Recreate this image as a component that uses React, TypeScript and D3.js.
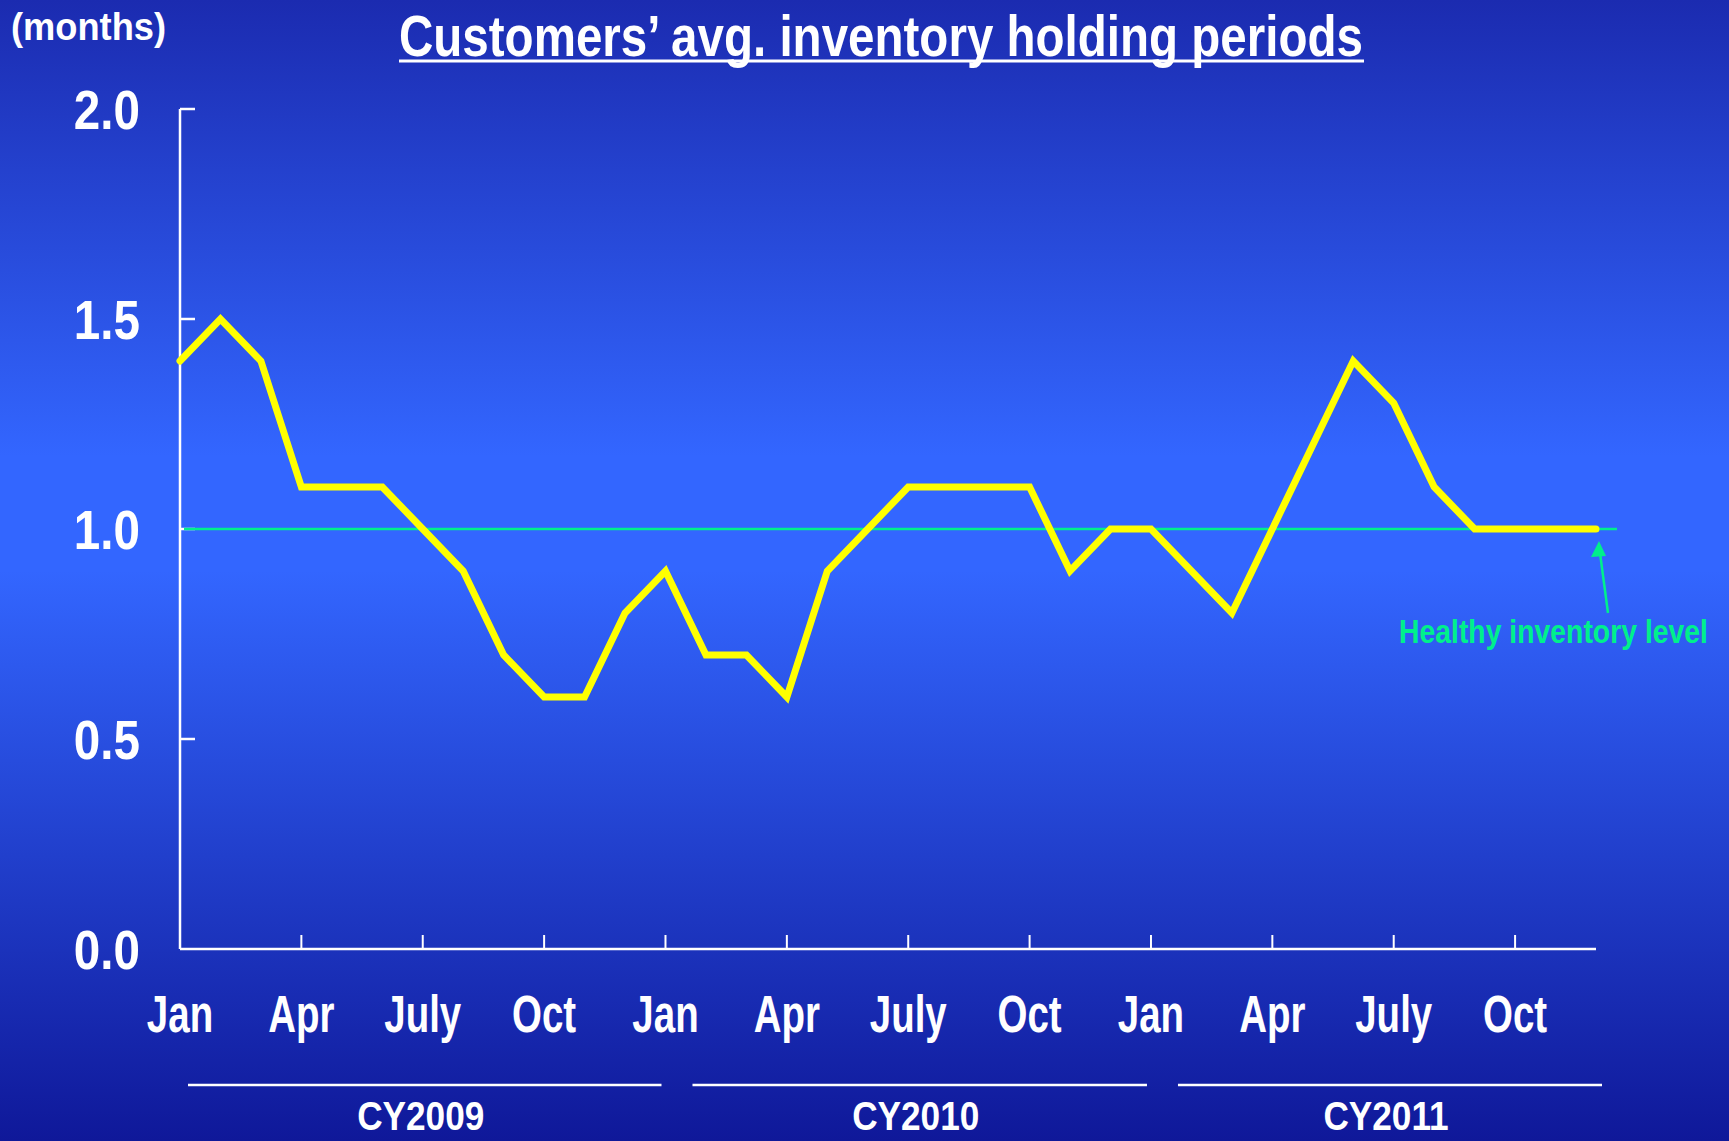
import React from "react";
import { scaleLinear, line } from "d3";

// chart data
const values2009 = [1.4, 1.5, 1.4, 1.1, 1.1, 1.1, 1.0, 0.9, 0.7, 0.6, 0.6, 0.8];
const values2010 = [0.9, 0.7, 0.7, 0.6, 0.9, 1.0, 1.1, 1.1, 1.1, 1.1, 0.9, 1.0];
const values2011 = [1.0, 0.9, 0.8, 1.0, 1.2, 1.4, 1.3, 1.1, 1.0, 1.0, 1.0, 1.0];
const tickLabels = ["Jan", "Apr", "July", "Oct", "Jan", "Apr", "July", "Oct", "Jan", "Apr", "July", "Oct"];
const years = ["CY2009", "CY2010", "CY2011"];
const yTicks = [0, 0.5, 1.0, 1.5, 2.0];
const healthyLevel = 1.0;

const title = "Customers\u2019 avg. inventory holding periods";
const unitLabel = "(months)";
const healthyLabel = "Healthy inventory level";

const width = 1729;
const height = 1141;
const margin = { top: 109, left: 180, bottom: 192 };
const plotRight = 1596;

const font = "'Liberation Sans', Arial, sans-serif";

export default function App() {
  const values = [...values2009, ...values2010, ...values2011];

  const x = scaleLinear()
    .domain([0, values.length - 1])
    .range([margin.left, plotRight]);
  const y = scaleLinear()
    .domain([0, 2])
    .range([height - margin.bottom, margin.top]);

  const path = line<number>()
    .x((d, i) => x(i))
    .y((d) => y(d))(values);

  const baseY = y(0);
  const green = "#00f08c";

  // year bands: start / end month index
  const yearRanges = years.map((yr, i) => {
    const start = i * 12;
    const end = Math.min((i + 1) * 12, values.length - 1);
    const last = i === years.length - 1;
    return {
      yr,
      x0: x(start) + (i === 0 ? 8 : 27),
      x1: x(end) + (last ? 6 : -4),
    };
  });

  const lastX = x(values.length - 1);
  const arrowTipY = y(healthyLevel) + 12;

  return (
    <svg
      width={width}
      height={height}
      style={{ position: "absolute", left: 0, top: 0, display: "block" }}
      fontFamily={font}
    >
      <defs>
        <linearGradient id="bg" x1="0" y1="0" x2="0" y2="1">
          <stop offset="0" stopColor="#1b2bb0" />
          <stop offset="0.4" stopColor="#3366ff" />
          <stop offset="0.5" stopColor="#3366ff" />
          <stop offset="1" stopColor="#0f1899" />
        </linearGradient>
      </defs>
      <rect x={0} y={0} width={width} height={height} fill="url(#bg)" />

      {/* title */}
      <text
        x={399}
        y={56}
        fill="#fff"
        fontSize={58}
        fontWeight="bold"
        textLength={964}
        lengthAdjust="spacingAndGlyphs"
      >
        {title}
      </text>
      <line x1={399} x2={1364} y1={61} y2={61} stroke="#fff" strokeWidth={3} />

      <text
        x={11}
        y={40}
        fill="#fff"
        fontSize={38}
        fontWeight="bold"
        textLength={155}
        lengthAdjust="spacingAndGlyphs"
      >
        {unitLabel}
      </text>

      {/* y axis */}
      <line x1={margin.left} x2={margin.left} y1={y(2)} y2={baseY} stroke="#fff" strokeWidth={2.5} />
      {yTicks.map((t) => (
        <g key={t}>
          {t > 0 && (
            <line x1={margin.left} x2={margin.left + 15} y1={y(t)} y2={y(t)} stroke="#fff" strokeWidth={2.5} />
          )}
          <text
            transform={`translate(140,${y(t) + 20}) scale(0.85,1)`}
            textAnchor="end"
            fill="#fff"
            fontSize={56}
            fontWeight="bold"
          >
            {t.toFixed(1)}
          </text>
        </g>
      ))}

      {/* x axis */}
      <line x1={margin.left} x2={plotRight} y1={baseY} y2={baseY} stroke="#fff" strokeWidth={2.5} />
      {tickLabels.map((lab, i) => {
        const xi = x(i * 3);
        return (
          <g key={i}>
            {i > 0 && <line x1={xi} x2={xi} y1={baseY} y2={baseY - 14} stroke="#fff" strokeWidth={2} />}
            <text
              transform={`translate(${xi},1032) scale(0.74,1)`}
              textAnchor="middle"
              fill="#fff"
              fontSize={52}
              fontWeight="bold"
            >
              {lab}
            </text>
          </g>
        );
      })}

      {/* year groups */}
      {yearRanges.map((r) => (
        <g key={r.yr}>
          <line x1={r.x0} x2={r.x1} y1={1085} y2={1085} stroke="#fff" strokeWidth={2.5} />
          <text
            transform={`translate(${(r.x0 + r.x1) / 2 - 4},1130) scale(0.88,1)`}
            textAnchor="middle"
            fill="#fff"
            fontSize={40}
            fontWeight="bold"
          >
            {r.yr}
          </text>
        </g>
      ))}

      {/* healthy level reference line */}
      <line
        x1={margin.left + 4}
        x2={1617}
        y1={y(healthyLevel)}
        y2={y(healthyLevel)}
        stroke={green}
        strokeWidth={2.5}
      />

      {/* data line */}
      <path
        d={path || ""}
        fill="none"
        stroke="#ffff00"
        strokeWidth={7}
        strokeLinejoin="miter"
        strokeLinecap="round"
      />

      {/* annotation */}
      <line x1={1608} y1={613} x2={lastX + 4} y2={arrowTipY + 12} stroke={green} strokeWidth={2.5} />
      <polygon
        points={`${lastX + 3},${arrowTipY} ${lastX - 5},${arrowTipY + 16} ${lastX + 10},${arrowTipY + 15}`}
        fill={green}
      />
      <text
        transform="translate(1708,643) scale(0.86,1)"
        textAnchor="end"
        fill={green}
        fontSize={33}
        fontWeight="bold"
      >
        {healthyLabel}
      </text>
    </svg>
  );
}
